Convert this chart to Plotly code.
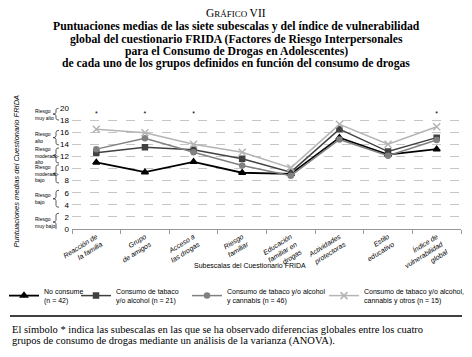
import plotly.graph_objects as go

categories = ["Reacción de<br>la familia", "Grupo<br>de amigos", "Acceso a<br>las drogas",
              "Riesgo<br>familiar", "Educación<br>familiar en<br>drogas", "Actividades<br>protectoras",
              "Estilo<br>educativo", "Índice de<br>vulnerabilidad<br>global"]
no_consume = [11.0, 9.4, 11.1, 9.3, 9.1, 15.1, 12.3, 13.2]
tabaco_alcohol = [12.6, 13.5, 13.1, 11.6, 9.4, 16.5, 12.8, 15.1]
tabaco_cannabis = [13.2, 15.0, 12.7, 10.5, 8.8, 14.8, 12.1, 14.7]
tabaco_otros = [16.5, 15.9, 14.0, 12.7, 10.1, 17.3, 14.0, 16.9]
significant = [True, True, True, False, False, False, False, True]
series_names = ["No consume<br>(n = 42)", "Consumo de tabaco<br>y/o alcohol (n = 21)",
                "Consumo de tabaco y/o alcohol<br>y cannabis (n = 46)",
                "Consumo de tabaco y/o alcohol,<br>cannabis y otros (n = 15)"]
y_ticks = list(range(0, 21, 2))
risk_labels = ["Riesgo<br>muy alto", "Riesgo<br>alto", "Riesgo<br>moderado-<br>alto",
               "Riesgo<br>moderado-<br>bajo", "Riesgo<br>bajo", "Riesgo<br>muy bajo"]
risk_ranges = [(18, 20), (13.9, 16.3), (10.9, 13.4), (7.6, 10.6), (3.6, 6.4), (-0.3, 2.6)]

SANS = "Liberation Sans, Arial, sans-serif"
SERIF = "Liberation Serif, Times New Roman, serif"
W, H = 472, 357

fig = go.Figure()
styles = [
    dict(color="#000000", symbol="triangle-up", width=1.8, size=6),
    dict(color="#404040", symbol="square", width=1.5, size=5),
    dict(color="#808080", symbol="circle", width=1.5, size=5),
    dict(color="#b4b4b4", symbol="x-thin-open", width=1.5, size=7),
]
legend_ids = ["legend", "legend2", "legend3", "legend4"]
legend_px = [4, 76, 187, 324]
for name, vals, st, lid in zip(series_names, [no_consume, tabaco_alcohol, tabaco_cannabis, tabaco_otros],
                               styles, legend_ids):
    fig.add_trace(go.Scatter(
        x=categories, y=vals, name=name, mode="lines+markers", legend=lid,
        line=dict(color=st["color"], width=st["width"]),
        marker=dict(symbol=st["symbol"], size=st["size"], color=st["color"],
                    line=dict(color=st["color"], width=1.5)),
    ))

ast_x = [c for c, s in zip(categories, significant) if s]
fig.add_trace(go.Scatter(x=ast_x, y=[19.0] * len(ast_x), mode="text", text=["*"] * len(ast_x),
                         textfont=dict(size=7, color="#000"), showlegend=False, hoverinfo="skip"))

# plot area in pixels: left 72, right 461, top 108, bottom 229
L, R, T, B = 72, 461, 108, 229
def px(x):
    return (x - L) / (R - L)
def py(y):
    return (B - y) / (B - T)

legend_common = dict(orientation="v", xref="container", yref="container", xanchor="left",
                     y=1 - 280 / H, yanchor="top", font=dict(family=SANS, size=7),
                     itemwidth=30, bgcolor="rgba(0,0,0,0)", borderwidth=0)
layout_legends = {lid: dict(x=lx / W, **legend_common) for lid, lx in zip(legend_ids, legend_px)}

fig.update_layout(
    width=W, height=H,
    margin=dict(l=L, r=W - R, t=T, b=H - B, autoexpand=False),
    paper_bgcolor="white", plot_bgcolor="white",
    font=dict(family=SANS, size=7, color="#000"),
    showlegend=True,
    xaxis=dict(type="category", tickangle=-32, tickfont=dict(family=SANS, size=7, style="italic", color="#000"),
               showgrid=False, showline=True, linecolor="#999", linewidth=1,
               ticks="outside", tickson="boundaries", ticklen=4, tickcolor="#999",
               range=[-0.5, 7.5], automargin=False),
    yaxis=dict(range=[0, 20], tickvals=y_ticks, tickfont=dict(family=SANS, size=8),
               showgrid=True, gridcolor="#b8b8b8", griddash="dash", gridwidth=0.8,
               zeroline=False, showline=False, ticks="", ticklabelstandoff=2, automargin=False),
    **layout_legends,
)

# Titles
fig.add_annotation(xref="paper", yref="paper", x=px(236), xanchor="center", y=py(13), yanchor="middle",
                   text="<span style='font-size:11.5px'>G</span>RÁFICO <span style='font-size:11.5px'>VII</span>",
                   showarrow=False, font=dict(family=SERIF, size=9))
title_lines = ["Puntuaciones medias de las siete subescalas y del índice de vulnerabilidad",
               "global del cuestionario FRIDA (Factores de Riesgo Interpersonales",
               "para el Consumo de Drogas en Adolescentes)",
               "de cada uno de los grupos definidos en función del consumo de drogas"]
for i, line in enumerate(title_lines):
    fig.add_annotation(xref="paper", yref="paper", x=px(236), xanchor="center",
                       y=py(26.8 + 12.3 * i), yanchor="middle", text="<b>" + line + "</b>",
                       showarrow=False, font=dict(family=SERIF, size=11.7))

# Axis titles
fig.add_annotation(xref="paper", yref="paper", x=px(9), y=py(171), textangle=-90,
                   text="Puntuaciones medias del Cuestionario FRIDA", showarrow=False,
                   font=dict(family=SANS, size=7.5, style="italic"))
fig.add_annotation(xref="paper", yref="paper", x=px(250), y=py(271),
                   text="Subescalas del Cuestionario FRIDA", showarrow=False,
                   font=dict(family=SANS, size=7))

# Risk labels and braces
for lab, (y0, y1) in zip(risk_labels, risk_ranges):
    ym = (y0 + y1) / 2
    fig.add_annotation(xref="paper", yref="y", x=px(33), xanchor="left", y=ym, yanchor="middle",
                       text=lab, showarrow=False, align="left",
                       font=dict(family=SANS, size=5))
    xr, xm, xl = px(59), px(56), px(53)
    d = 0.3
    path = (f"M {xr},{y1} Q {xm},{y1} {xm},{y1 - d} L {xm},{ym + d} Q {xm},{ym} {xl},{ym} "
            f"Q {xm},{ym} {xm},{ym - d} L {xm},{y0 + d} Q {xm},{y0} {xr},{y0}")
    fig.add_shape(type="path", xref="paper", yref="y", path=path,
                  line=dict(color="#333", width=0.8))

# Separator line
fig.add_shape(type="line", xref="paper", yref="paper", x0=px(10), x1=px(462), y0=py(316), y1=py(316),
              line=dict(color="#000", width=1.5))

# Footnote
foot = ["El símbolo * indica las subescalas en las que se ha observado diferencias globales entre los cuatro",
        "grupos de consumo de drogas mediante un análisis de la varianza (ANOVA)."]
for i, line in enumerate(foot):
    fig.add_annotation(xref="paper", yref="paper", x=px(10), xanchor="left", y=py(329 + 12 * i),
                       yanchor="middle", text=line, showarrow=False,
                       font=dict(family=SERIF, size=10.5))

fig.write_html("out.html", config=dict(staticPlot=True, displayModeBar=False),
               post_script="document.body.style.margin='0';document.body.style.overflow='hidden';"
                           "document.querySelectorAll('svg').forEach(function(s){s.style.webkitFontSmoothing='antialiased';});")
